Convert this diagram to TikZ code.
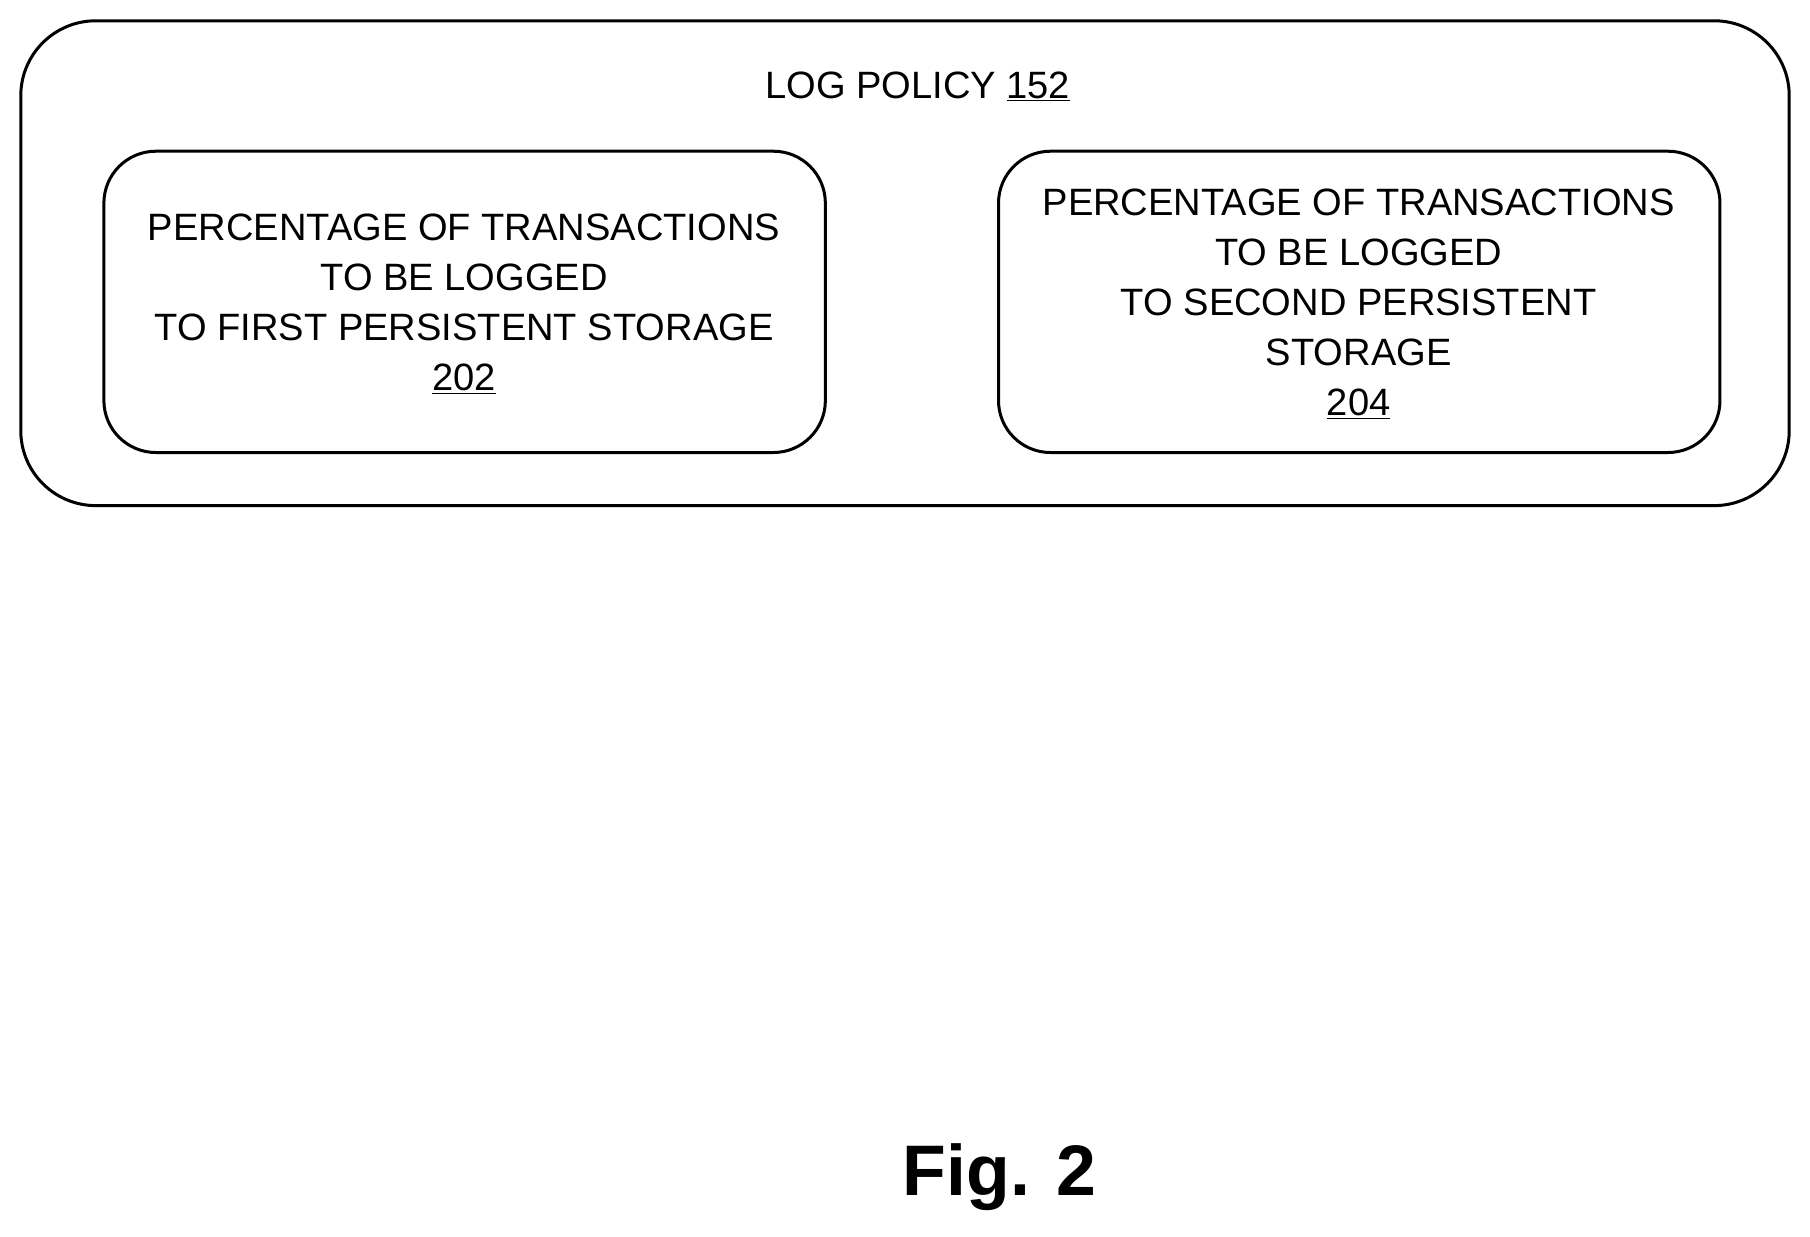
\documentclass[tikz,border=0pt]{standalone}
\usepackage{fontspec}
\setmainfont{Liberation Sans}
\begin{document}
\begin{tikzpicture}[x=1pt,y=-1pt,
 box/.style={draw,line width=2.6pt,rounded corners=#1},
 txt/.style={align=center,font=\fontsize{33}{43.5}\selectfont,inner sep=0}]
\useasboundingbox (0,0) rectangle (1568,1071);
\draw[box=65pt] (18,18) rectangle (1550,438);
\draw[box=45pt] (90,131) rectangle (715,392);
\draw[box=45pt] (865,131) rectangle (1490,392);
\node[txt] (title) at (795,75) {LOG POLICY \underline{152}};
\node[txt] (a) at (402,263) {PERCENTAGE OF TRANSACTIONS\\TO BE LOGGED\\TO FIRST PERSISTENT STORAGE\\\underline{202}};
\node[txt] (b) at (1177,263) {PERCENTAGE OF TRANSACTIONS\\TO BE LOGGED\\TO SECOND PERSISTENT\\STORAGE\\\underline{204}};
\node[font=\fontsize{62}{70}\selectfont\bfseries,inner sep=0] (fig) at (866,1020) {Fig. 2};
\end{tikzpicture}
\end{document}
